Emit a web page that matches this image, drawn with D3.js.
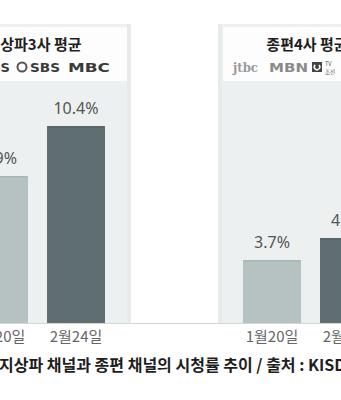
<!DOCTYPE html>
<html>
<head>
<meta charset="utf-8">
<script src="https://cdn.jsdelivr.net/npm/d3@7"></script>
<style>
  html, body { margin: 0; padding: 0; background: #fff; }
  svg { display: block; font-family: "Noto Sans CJK KR", "Noto Sans", sans-serif; }
</style>
</head>
<body>
<div id="container"></div>
<script>
const panels = ["지상파3사 평균", "종편4사 평균"];
const dates = ["1월20일", "2월24일"];
const terrestrial = [7.9, 10.4];
const cable = [3.7, 4.8];
const caption = "지상파 채널과 종편 채널의 시청률 추이 / 출처 : KISDI";

function drawChart() {
  const width = 341;
  const height = 400;
  const baseline = 323;

  const data = panels.map((p, i) => ({
    panel: p,
    values: (i === 0 ? terrestrial : cable).map((v, j) => ({ date: dates[j], value: v }))
  }));

  const svg = d3.select("#container").append("svg")
    .attr("width", width)
    .attr("height", height);

  // panel groups, each one 273px apart (chart is cropped on both sides)
  const x0 = d3.scaleBand()
    .domain(panels)
    .range([-30, 516]);

  const x1 = d3.scaleBand()
    .domain(dates)
    .range([0, 135])
    .paddingInner(0.247);

  const y = d3.scaleLinear()
    .domain([0.55, 10.4])
    .range([baseline, 126]);

  const g = svg.selectAll(".panel")
    .data(data)
    .enter().append("g")
    .attr("class", "panel")
    .attr("transform", d => `translate(${x0(d.panel)},0)`);

  // panel background
  g.append("rect")
    .attr("x", -25)
    .attr("y", 24)
    .attr("width", 186)
    .attr("height", baseline - 24)
    .attr("fill", "#e8ebec");

  g.append("rect")
    .attr("x", -21)
    .attr("y", 24)
    .attr("width", 178)
    .attr("height", baseline - 24)
    .attr("fill", "#edf0f1");

  // header box
  g.append("rect")
    .attr("x", -20)
    .attr("y", 27)
    .attr("width", 177)
    .attr("height", 54)
    .attr("fill", "#fdfdfd");

  g.append("text")
    .attr("x", 64)
    .attr("y", 50)
    .attr("text-anchor", "middle")
    .attr("font-size", 15)
    .attr("font-weight", "bold")
    .attr("fill", "#1e1e1e")
    .text(d => d.panel);

  // bars
  g.selectAll(".bar")
    .data(d => d.values)
    .enter().append("rect")
    .attr("class", "bar")
    .attr("x", d => x1(d.date))
    .attr("y", d => y(d.value))
    .attr("width", x1.bandwidth())
    .attr("height", d => baseline - y(d.value))
    .attr("fill", (d, i) => i === 0 ? "#b6c2c2" : "#5f6e71");

  g.selectAll(".bar-top")
    .data(d => d.values)
    .enter().append("rect")
    .attr("x", d => x1(d.date))
    .attr("y", d => y(d.value))
    .attr("width", x1.bandwidth())
    .attr("height", 1.5)
    .attr("fill", (d, i) => i === 0 ? "#a9b6b6" : "#56656a");

  // value labels
  g.selectAll(".value")
    .data(d => d.values)
    .enter().append("text")
    .attr("class", "value")
    .attr("x", d => x1(d.date) + x1.bandwidth() / 2)
    .attr("y", d => y(d.value) - 12)
    .attr("text-anchor", "middle")
    .attr("font-family", "'Noto Sans', sans-serif")
    .attr("font-size", 16)
    .attr("fill", "#555")
    .text(d => d.value.toFixed(1) + "%");

  // date axis
  g.append("g")
    .attr("transform", `translate(0,${baseline})`)
    .call(d3.axisBottom(x1).tickSize(0).tickPadding(8))
    .call(a => a.select(".domain").remove())
    .call(a => a.selectAll("text")
      .attr("font-family", "'Noto Sans CJK KR', sans-serif")
      .attr("font-size", 15)
      .attr("fill", "#666"));

  // baseline
  svg.append("line")
    .attr("x1", 0).attr("x2", width)
    .attr("y1", baseline + 0.5).attr("y2", baseline + 0.5)
    .attr("stroke", "#d3d7d7");

  // channel logos (as text)
  const left = svg.append("g").attr("transform", `translate(${x0(panels[0])},0)`);
  const right = svg.append("g").attr("transform", `translate(${x0(panels[1])},0)`);

  left.append("text")
    .attr("x", 40).attr("y", 72)
    .attr("text-anchor", "end")
    .attr("font-family", "'DejaVu Sans', sans-serif")
    .attr("font-size", 13).attr("font-weight", "bold").attr("fill", "#3a3a3a")
    .text("KBS");
  left.append("circle")
    .attr("cx", 52).attr("cy", 67).attr("r", 4.5)
    .attr("fill", "none").attr("stroke", "#555").attr("stroke-width", 2);
  left.append("text")
    .attr("x", 60).attr("y", 72)
    .attr("font-family", "'DejaVu Sans Condensed', sans-serif")
    .attr("font-size", 13).attr("font-weight", "bold").attr("fill", "#3a3a3a")
    .attr("textLength", 30).attr("lengthAdjust", "spacingAndGlyphs")
    .text("SBS");
  left.append("text")
    .attr("x", 98).attr("y", 72)
    .attr("font-family", "'DejaVu Sans', sans-serif")
    .attr("font-size", 13).attr("font-weight", "bold").attr("fill", "#3a3a3a")
    .attr("textLength", 42).attr("lengthAdjust", "spacingAndGlyphs")
    .text("MBC");

  right.append("text")
    .attr("x", -10).attr("y", 72)
    .attr("font-family", "'DejaVu Serif', serif")
    .attr("font-size", 13).attr("font-weight", "bold").attr("fill", "#9a9a9a")
    .attr("textLength", 25).attr("lengthAdjust", "spacingAndGlyphs")
    .text("jtbc");
  right.append("text")
    .attr("x", 26).attr("y", 72)
    .attr("font-family", "'DejaVu Sans', sans-serif")
    .attr("font-size", 13).attr("font-weight", "bold").attr("fill", "#8a8a8a")
    .attr("textLength", 39).attr("lengthAdjust", "spacingAndGlyphs")
    .text("MBN");
  // small boxed logo, drawn as a shape with an arc inside
  right.append("rect")
    .attr("x", 69).attr("y", 62).attr("width", 10).attr("height", 10)
    .attr("fill", "#444");
  right.append("path")
    .attr("transform", "translate(74,67)")
    .attr("d", d3.arc()({ innerRadius: 2, outerRadius: 3.5, startAngle: 0.8, endAngle: 5.6 }))
    .attr("fill", "#fff");
  right.append("text")
    .attr("x", 82).attr("y", 65.5)
    .attr("font-size", 5.5).attr("fill", "#555")
    .text("TV");
  right.append("text")
    .attr("x", 82).attr("y", 73.5)
    .attr("font-size", 5.5).attr("fill", "#555")
    .text("조선");

  // caption
  svg.append("text")
    .attr("x", -1)
    .attr("y", 371)
    .attr("font-size", 16)
    .attr("font-weight", "bold")
    .attr("fill", "#1e1e1e")
    .text(caption);
}

drawChart();
</script>
</body>
</html>
